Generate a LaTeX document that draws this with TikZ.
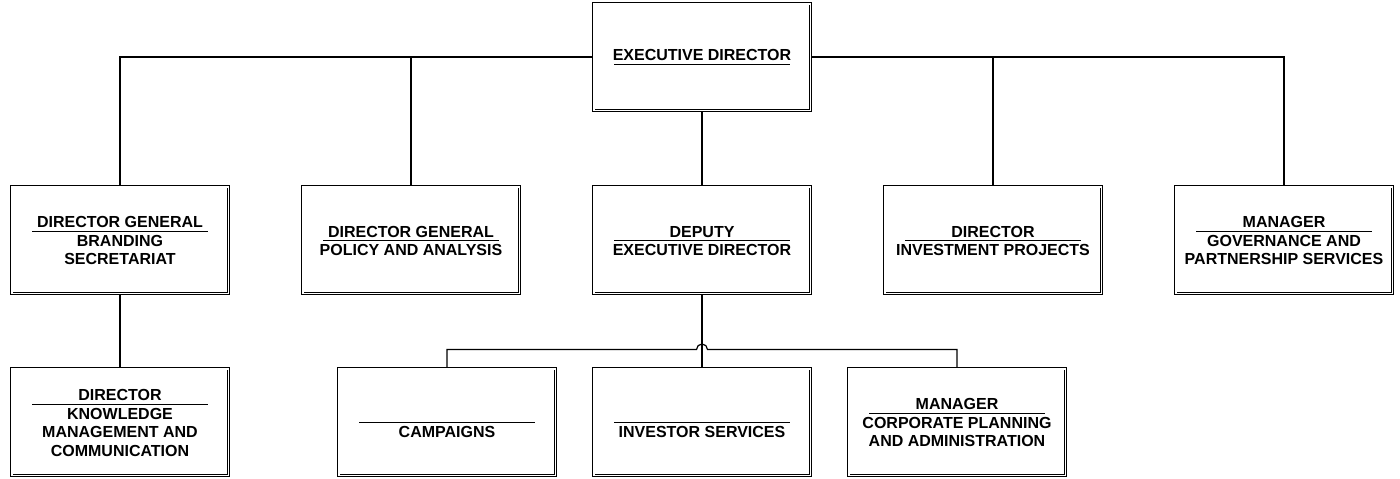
\documentclass[tikz,border=0pt]{standalone}
\usepackage{fontspec}
\setmainfont{Liberation Sans}
\newcommand\hd[1]{\makebox[176pt]{\strut #1}\llap{\rule[-3.8pt]{176pt}{0.9pt}}}
\begin{document}
\begin{tikzpicture}[x=1pt,y=-1pt,
  orgbox/.style={draw=black, double, line width=0.9pt, double distance=1.6pt,
    minimum width=216.6pt, minimum height=106.6pt, inner sep=0pt, outer sep=1.7pt,
    align=center, font=\fontsize{16}{18.5}\selectfont\bfseries},
  link/.style={line width=1.2pt}]
\useasboundingbox (0,0) rectangle (1400,479);
\node[orgbox] (exec) at (702,57) {\hd{EXECUTIVE DIRECTOR}};
\node[orgbox] (dgb) at (120,240) {\hd{DIRECTOR GENERAL}\\BRANDING\\SECRETARIAT};
\node[orgbox] (dgp) at (411,240) {\hd{DIRECTOR GENERAL}\\POLICY AND ANALYSIS};
\node[orgbox] (dep) at (702,240) {\hd{DEPUTY}\\EXECUTIVE DIRECTOR};
\node[orgbox] (dip) at (993,240) {\hd{DIRECTOR}\\INVESTMENT PROJECTS};
\node[orgbox] (mgp) at (1284,240) {\hd{MANAGER}\\GOVERNANCE AND\\PARTNERSHIP SERVICES};
\node[orgbox] (km) at (120,422) {\hd{DIRECTOR}\\KNOWLEDGE\\MANAGEMENT AND\\COMMUNICATION};
\node[orgbox] (camp) at (447,422) {\hd{}\\CAMPAIGNS};
\node[orgbox] (inv) at (702,422) {\hd{}\\INVESTOR SERVICES};
\node[orgbox] (corp) at (957,422) {\hd{MANAGER}\\CORPORATE PLANNING\\AND ADMINISTRATION};
\coordinate (hopL) at (696.5,349.5);
\draw[link] (exec.west) -| (dgb.north);
\draw[link] (exec.west) -| (dgp.north);
\draw[link] (exec.east) -| (dip.north);
\draw[link] (exec.east) -| (mgp.north);
\draw[link] (exec.south) -- (dep.north);
\draw[link] (dgb.south) -- (km.north);
\draw[link] (dep.south) -- (inv.north);
\draw[link] (camp.north) |- (hopL) arc[start angle=180, end angle=0, radius=5.5pt] -| (corp.north);
\end{tikzpicture}
\end{document}
